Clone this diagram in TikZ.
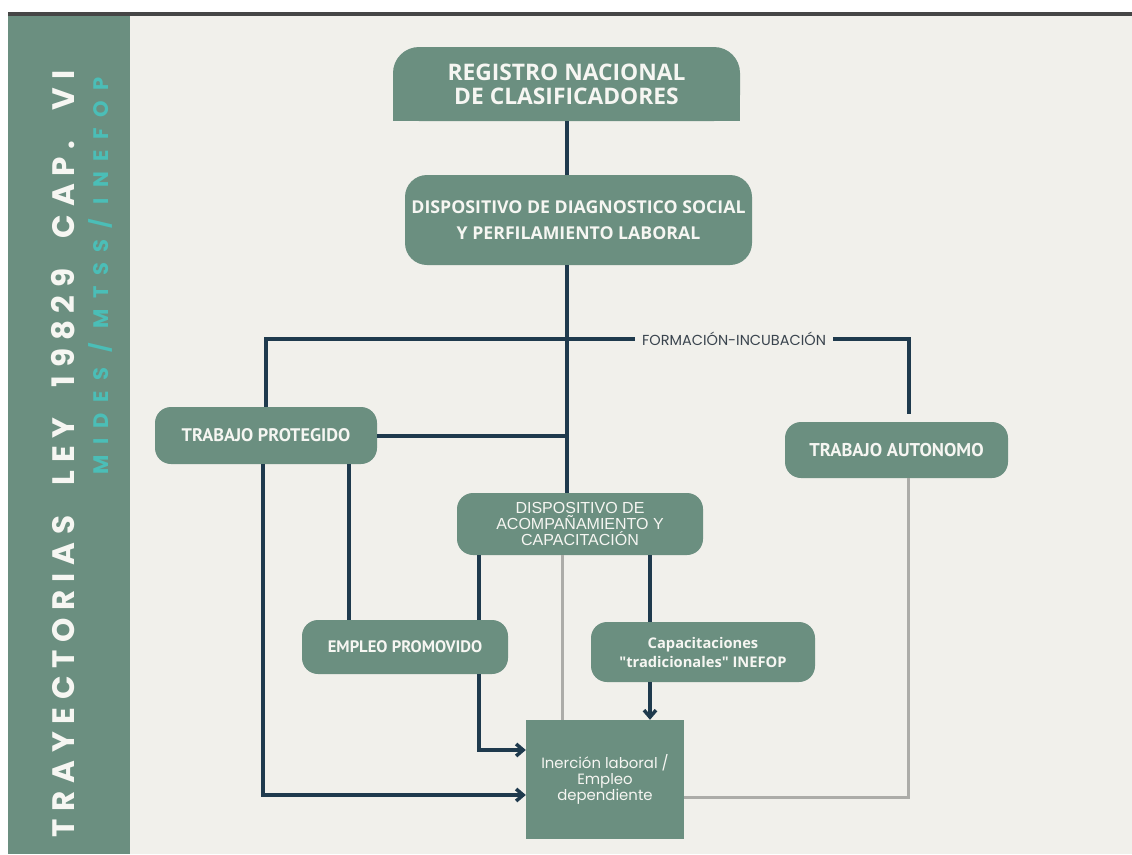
\documentclass[tikz,border=0pt]{standalone}
\usepackage{fontspec}
\usepackage{tikz}
\usetikzlibrary{arrows.meta,positioning}
\setmainfont{Open Sans}
\newfontfamily\popfont{Poppins}
\newfontfamily\titfont[LetterSpace=25]{Poppins}
\newfontfamily\entesfont[LetterSpace=50]{Poppins}
\newfontfamily\ptfont{PT Sans}
\newfontfamily\arialfont{Liberation Sans}
\newfontfamily\capfont[Ligatures=TeXOff]{Open Sans}
\definecolor{fondo}{RGB}{241,240,235}
\definecolor{verde}{RGB}{107,143,128}
\definecolor{azul}{RGB}{31,58,77}
\definecolor{gris}{RGB}{172,172,168}
\definecolor{barra}{RGB}{70,70,70}
\definecolor{turquesa}{RGB}{75,190,183}
\definecolor{blanco}{RGB}{246,246,242}
\definecolor{texto}{RGB}{58,68,78}

\begin{document}
\begin{tikzpicture}[x=1pt,y=-1pt]
                \tikzstyle{every node}+=[inner sep=0pt]
                \tikzstyle{caja}=[fill=verde, text=blanco, rounded corners=16pt, align=center]
                \tikzstyle{con}=[draw=azul, line width=4pt]
                \tikzstyle{congris}=[draw=gris, line width=3pt]
                \tikzstyle{flecha}=[con, -{Straight Barb[length=7pt,width=12pt,line width=3.5pt]}]
                \useasboundingbox (0,0) rectangle (1132,854);
                \fill [white] (0,0) rectangle (1132,854);
                \fill [fondo] (8,16) rectangle (1132,854);
                \fill [barra] (8,12) rectangle (1132,16);
                \fill [verde] (8,16) rectangle (130,854);
                \node [rotate=90, text=blanco, font=\titfont\bfseries\fontsize{31}{32}\selectfont] (titulo) at (63,454) {TRAYECTORIAS\hspace{16pt} LEY\hspace{16pt} 19829\hspace{16pt} CAP.\hspace{16pt} VI};
                \node [rotate=90, text=turquesa, font=\entesfont\bfseries\fontsize{21}{24}\selectfont] (entes) at (100,276) {MIDES / MTSS/ INEFOP};
                \fill [verde, rounded corners=26pt] (393,47) rectangle (740,121);
                \fill [verde] (393,84) rectangle (740,121);
                \node [text=blanco, align=center, minimum width=347pt, minimum height=74pt, font=\bfseries\fontsize{22.8}{24}\selectfont] (reg) at (566.5,84) {REGISTRO NACIONAL\\DE CLASIFICADORES};
                \node [caja, rounded corners=22pt, minimum width=347pt, minimum height=90pt, font=\bfseries\fontsize{17.7}{26}\selectfont] (diag) at (578.5,220) {DISPOSITIVO DE DIAGNOSTICO SOCIAL\\Y PERFILAMIENTO LABORAL};
                \node [caja, minimum width=222pt, minimum height=57pt, font=\ptfont\bfseries\fontsize{18.2}{20}\selectfont] (tp) at (266,435.5) {TRABAJO PROTEGIDO};
                \node [caja, minimum width=223pt, minimum height=56pt, font=\ptfont\bfseries\fontsize{18.5}{20}\selectfont] (ta) at (896.5,450) {TRABAJO AUTONOMO};
                \node [caja, minimum width=246pt, minimum height=62pt, font=\arialfont\fontsize{16}{16}\selectfont] (acomp) at (580,524) {DISPOSITIVO DE\\ACOMPAÑAMIENTO Y\\CAPACITACIÓN};
                \node [caja, minimum width=206pt, minimum height=54pt, font=\ptfont\bfseries\fontsize{16.6}{20}\selectfont] (ep) at (405,647) {EMPLEO PROMOVIDO};
                \node [caja, minimum width=224pt, minimum height=60pt, font=\capfont\bfseries\fontsize{14.7}{19}\selectfont] (cap) at (703,652) {Capacitaciones\\"tradicionales" INEFOP};
                \node [caja, sharp corners, minimum width=158pt, minimum height=119pt, font=\popfont\fontsize{14.9}{16}\selectfont] (ins) at (605,779.5) {Inerción laboral /\\Empleo\\dependiente};
                \node [fill=fondo, inner xsep=7pt, inner ysep=3pt, text=texto, font=\popfont\fontsize{14.5}{16}\selectfont] (form) at (734,339) {FORMACIÓN-INCUBACIÓN};
                \draw [con] (reg.south) -- (reg.south |- diag.north);
                \draw [con] (reg.south |- diag.south) -- (reg.south |- acomp.north);
                \draw [con] (tp.north) |- (form.west);
                \draw [con, shorten >=8pt] (form.east) -| ([xshift=12pt]ta.north);
                \draw [con] (tp.east) -- (tp.east -| reg.south);
                \draw [flecha] ([xshift=-3pt]tp.south) |- ([yshift=-15.5pt]ins.west);
                \draw [con] ([xshift=-28pt]tp.south east) -- ([xshift=-28pt]tp.south east |- ep.north);
                \draw [con] ([xshift=22pt]acomp.south west) -- ([xshift=22pt]acomp.south west |- ep.north);
                \draw [flecha] ([xshift=22pt]acomp.south west |- ep.south) |- ([yshift=29.5pt]ins.west);
                \draw [congris] ([xshift=-18pt]acomp.south) -- ([xshift=-18pt]acomp.south |- ins.north);
                \draw [con] ([xshift=70pt]acomp.south) -- ([xshift=70pt]acomp.south |- cap.north);
                \draw [flecha] ([xshift=70pt]acomp.south |- cap.south) -- ([xshift=70pt]acomp.south |- ins.north);
                \draw [congris] ([xshift=12pt]ta.south) |- ([yshift=-17.5pt]ins.east);
\end{tikzpicture}
\end{document}
